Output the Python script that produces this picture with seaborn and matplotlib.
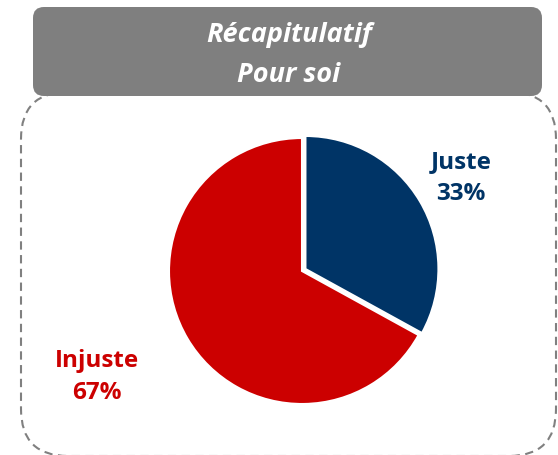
import matplotlib
matplotlib.use("Agg")
import matplotlib.pyplot as plt
from matplotlib.patches import FancyBboxPatch
import seaborn as sns

# data
labels = ["Juste", "Injuste"]
values = [33, 67]
colors = ["#003466", "#CC0000"]
title_lines = ["Récapitulatif", "Pour soi"]

sns.set_theme(style="white")
plt.rcParams['font.family'] = ['Open Sans', 'DejaVu Sans']

W, H = 558, 456
fig = plt.figure(figsize=(W / 100, H / 100), dpi=100)

# overlay axes in pixel coordinates (y measured from top)
bg = fig.add_axes([0, 0, 1, 1])
bg.set_xlim(0, W)
bg.set_ylim(H, 0)
bg.axis("off")

# dashed frame, top edge hidden under the header, bottom edge at the figure border
frame = FancyBboxPatch((21, 93), 535, 364, boxstyle="round,pad=0,rounding_size=47",
                       fill=False, edgecolor="#808080", linewidth=1.5,
                       linestyle=(0, (4, 2.6)), zorder=1, clip_on=False)
bg.add_patch(frame)

# header box
header = FancyBboxPatch((33, 8), 509, 89, boxstyle="round,pad=0,rounding_size=11",
                        facecolor="#7f7f7f", edgecolor="none", zorder=2)
bg.add_patch(header)
bg.text(289, 35, title_lines[0], ha="center", va="center", color="white",
        fontsize=19.5, fontweight="bold", fontstyle="italic", zorder=3)
bg.text(289, 75, title_lines[1], ha="center", va="center", color="white",
        fontsize=19.5, fontweight="bold", fontstyle="italic", zorder=3)

# pie
cx, cy, r = 302, 272, 133
lim = 1.06
half = r * lim
ax = fig.add_axes([(cx - half) / W, (H - cy - half) / H, 2 * half / W, 2 * half / H])
ax.pie(values, colors=colors, startangle=90, counterclock=False,
       explode=[0.03, 0], radius=1,
       wedgeprops=dict(edgecolor="white", linewidth=1.5))
ax.set_xlim(-lim, lim)
ax.set_ylim(-lim, lim)
ax.axis("off")

# labels
bg.text(461, 178, f"{labels[0]}\n{values[0]}%", ha="center", va="center",
        color=colors[0], fontsize=17.5, fontweight="bold", linespacing=1.45, zorder=3)
bg.text(97, 377, f"{labels[1]}\n{values[1]}%", ha="center", va="center",
        color=colors[1], fontsize=17.5, fontweight="bold", linespacing=1.45, zorder=3)

fig.savefig("out.png", dpi=100)
